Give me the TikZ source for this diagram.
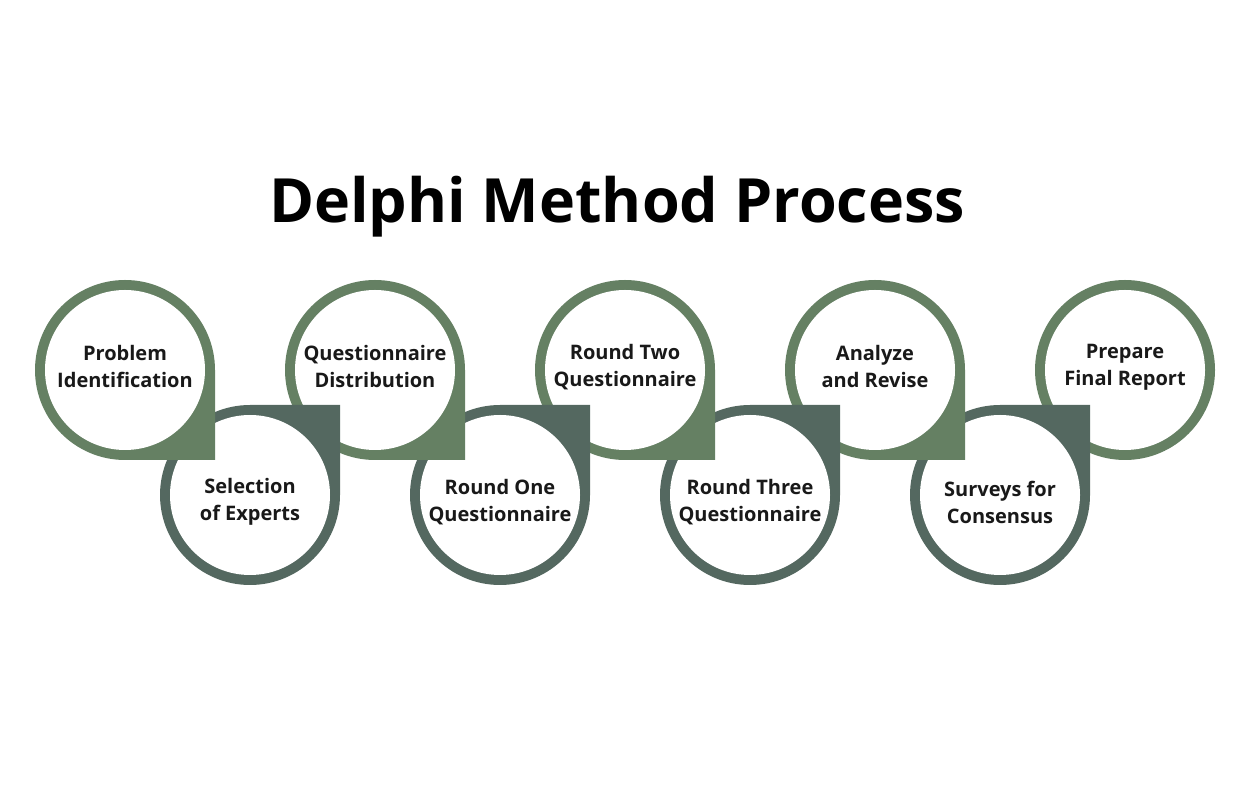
\documentclass[tikz,border=0pt]{standalone}
\usepackage{fontspec}
\setmainfont{Open Sans}
\usepackage{tikz}
\usetikzlibrary{positioning}
\definecolor{topgreen}{RGB}{101,128,99}
\definecolor{lowgreen}{RGB}{84,104,96}

\begin{document}
\begin{tikzpicture}[x=1pt,y=1pt,
    hole/.style={fill=white},
    steptext/.style={align=center,inner sep=0pt,font=\fontsize{20}{27}\selectfont\bfseries,text=black!90}]
  \useasboundingbox (0,0) rectangle (1250,800);
  \node[font=\fontsize{61}{70}\selectfont\bfseries,anchor=base] (T) at (617,577) {Delphi Method Process};

  % drawn from the last step back to the first, so each corner lies over the next ring
  \fill[topgreen] (1125,430) circle[radius=90];
  \fill[hole] (1125,430) circle[radius=80];
  \node[steptext] (I) at (1125,433) {Prepare\\Final Report};
  \fill[lowgreen] (1000,395) -- (1090,395) -- (1090,305) arc[start angle=0,end angle=-270,radius=90] -- cycle;
  \fill[hole] (1000,305) circle[radius=80];
  \node[steptext] (H) at (1000,298) {Surveys for\\Consensus};
  \fill[topgreen] (965,430) -- (965,340) -- (875,340) arc[start angle=270,end angle=0,radius=90] -- cycle;
  \fill[hole] (875,430) circle[radius=80];
  \node[steptext] (G) at (875,433) {Analyze\\and Revise};
  \fill[lowgreen] (750,395) -- (840,395) -- (840,305) arc[start angle=0,end angle=-270,radius=90] -- cycle;
  \fill[hole] (750,305) circle[radius=80];
  \node[steptext] (F) at (750,298) {Round Three\\Questionnaire};
  \fill[topgreen] (715,430) -- (715,340) -- (625,340) arc[start angle=270,end angle=0,radius=90] -- cycle;
  \fill[hole] (625,430) circle[radius=80];
  \node[steptext] (E) at (625,433) {Round Two\\Questionnaire};
  \fill[lowgreen] (500,395) -- (590,395) -- (590,305) arc[start angle=0,end angle=-270,radius=90] -- cycle;
  \fill[hole] (500,305) circle[radius=80];
  \node[steptext] (D) at (500,298) {Round One\\Questionnaire};
  \fill[topgreen] (465,430) -- (465,340) -- (375,340) arc[start angle=270,end angle=0,radius=90] -- cycle;
  \fill[hole] (375,430) circle[radius=80];
  \node[steptext] (C) at (375,433) {Questionnaire\\Distribution};
  \fill[lowgreen] (250,395) -- (340,395) -- (340,305) arc[start angle=0,end angle=-270,radius=90] -- cycle;
  \fill[hole] (250,305) circle[radius=80];
  \node[steptext] (B) at (250,298) {Selection\\of Experts};
  \fill[topgreen] (215,430) -- (215,340) -- (125,340) arc[start angle=270,end angle=0,radius=90] -- cycle;
  \fill[hole] (125,430) circle[radius=80];
  \node[steptext] (A) at (125,433) {Problem\\Identification};
\end{tikzpicture}
\end{document}
